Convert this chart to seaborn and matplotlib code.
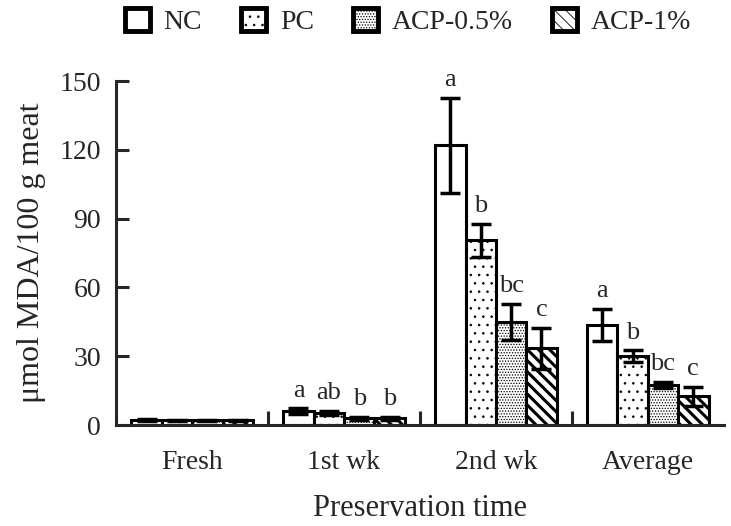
import numpy as np
import pandas as pd
import matplotlib
matplotlib.use('Agg')
import matplotlib.pyplot as plt
import seaborn as sns

# data
groups = ['Fresh', '1st wk', '2nd wk', 'Average']
treatments = ['NC', 'PC', 'ACP-0.5%', 'ACP-1%']
nc = [2.2, 6.0, 122.0, 43.5]
pc = [2.0, 5.2, 80.5, 30.0]
acp05 = [2.0, 3.0, 45.0, 17.5]
acp1 = [2.1, 3.0, 33.5, 12.5]
nc_err = [0.3, 1.2, 20.8, 7.0]
pc_err = [0.3, 0.8, 7.2, 2.5]
acp05_err = [0.3, 0.6, 7.8, 1.3]
acp1_err = [0.3, 0.7, 9.0, 4.0]
nc_lab = ['', 'a', 'a', 'a']
pc_lab = ['', 'ab', 'b', 'b']
acp05_lab = ['', 'b', 'bc', 'bc']
acp1_lab = ['', 'b', 'c', 'c']

vals = [nc, pc, acp05, acp1]
errs = [nc_err, pc_err, acp05_err, acp1_err]
labs = [nc_lab, pc_lab, acp05_lab, acp1_lab]

rows = []
for t, v in zip(treatments, vals):
    for g, y in zip(groups, v):
        rows.append({'time': g, 'trt': t, 'val': y})
df = pd.DataFrame(rows)

sns.set_style('ticks')
plt.rcParams['font.family'] = ['Liberation Serif', 'DejaVu Serif']
plt.rcParams['hatch.linewidth'] = 0.6

fig = plt.figure(figsize=(7.31, 5.26), dpi=100)
ax = fig.add_axes([0.159, 0.192, 0.831, 0.654])

sns.barplot(data=df, x='time', y='val', hue='trt', order=groups, hue_order=treatments,
            palette=['white'] * 4, edgecolor='black', linewidth=2.2, width=0.8,
            errorbar=None, legend=False, ax=ax)

hatches = ['', '..', '......', '\\\\\\']
hatch_lw = [0.6, 0.6, 0.6, 2.2]
for cont, h, hl, e, lb in zip(ax.containers, hatches, hatch_lw, errs, labs):
    xs = []
    ys = []
    for p in cont.patches:
        p.set_hatch(h)
        if hasattr(p, 'set_hatch_linewidth'):
            p.set_hatch_linewidth(hl)
        xs.append(p.get_x() + p.get_width() / 2)
        ys.append(p.get_height())
    ax.errorbar(xs, ys, yerr=e, fmt='none', ecolor='black', elinewidth=2.5,
                capsize=7.5, capthick=2.5, zorder=5)
    for x, y, err, t in zip(xs, ys, e, lb):
        if t:
            ax.annotate(t, (x, y + err), xytext=(0, 5), textcoords='offset points',
                        ha='center', va='bottom', fontsize=19)

ax.set_ylim(0, 150)
ax.set_xlim(-0.5, 3.5)
ax.set_yticks([0, 30, 60, 90, 120, 150])
ax.set_xticks([0, 1, 2, 3])
ax.set_xticklabels(groups)
# boundary ticks between groups
ax.set_xticks([0.5, 1.5, 2.5], minor=True)
ax.tick_params(axis='x', which='major', length=0, labelsize=20, pad=18)
ax.tick_params(axis='x', which='minor', direction='in', length=10, width=2.2)
ax.tick_params(axis='y', direction='in', length=9, width=2.2, labelsize=20, pad=11)
for s in ['top', 'right']:
    ax.spines[s].set_visible(False)
for s in ['left', 'bottom']:
    ax.spines[s].set_linewidth(2.2)

ax.set_ylabel('μmol MDA/100 g meat', fontsize=23, labelpad=10)
ax.set_xlabel('Preservation time', fontsize=22, labelpad=14)

leg = ax.legend(ax.containers, treatments, loc='lower center', bbox_to_anchor=(0.48, 1.1),
                ncol=4, frameon=False, fontsize=20, handlelength=0.9, handleheight=0.9,
                columnspacing=1.4, handletextpad=0.5, borderaxespad=0)
for h in leg.legend_handles:
    h.set_linewidth(3.5)

fig.savefig('out.png', dpi=100)
